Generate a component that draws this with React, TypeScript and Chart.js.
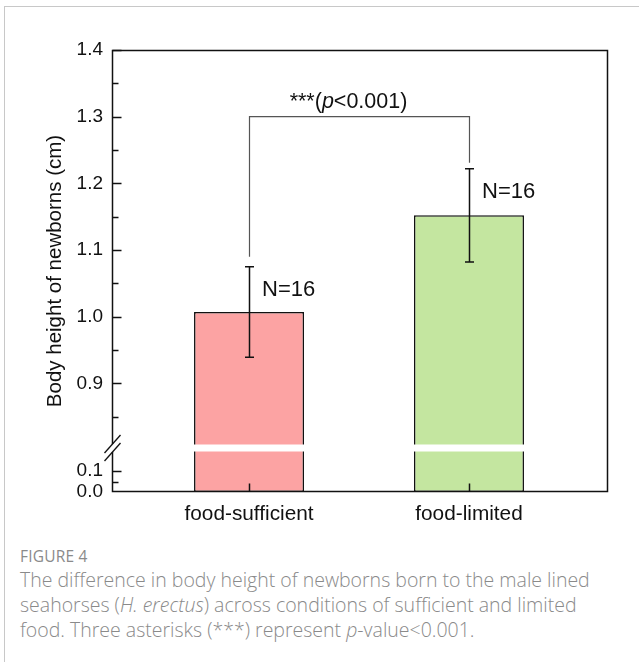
import React, { useEffect, useRef } from "react";
import { Chart, registerables } from "chart.js";

Chart.register(...registerables);

// ---------- data ----------
const categories = ["food-sufficient", "food-limited"];
const means = [1.007, 1.152];
const errors = [0.068, 0.07];
const sampleLabels = ["N=16", "N=16"];
const barColors = ["#fca3a3", "#c4e6a0"];
const majorTicks = [0.0, 0.1, 0.9, 1.0, 1.1, 1.2, 1.3, 1.4];
const minorTicks = [0.05, 0.85, 0.95, 1.05, 1.15, 1.25, 1.35];
const bracketTop = 1.3;
const bracketLegs = [1.09, 1.231];
const yTitle = "Body height of newborns (cm)";

// ---------- broken axis mapping ----------
const lowerMax = 0.2; // last value shown in the lower segment
const upperMin = 0.8; // first value shown in the upper segment
const lowerRatio = 0.315; // lower segment compression
const breakAxis = lowerMax * lowerRatio;
const toAxis = (v: number) =>
  v <= lowerMax ? v * lowerRatio : breakAxis + (v - upperMin);

const FONT = "'Liberation Sans', Arial, sans-serif";

const overlay = {
  id: "overlay",
  afterDatasetsDraw(chart: any) {
    const { ctx, chartArea: a, scales } = chart;
    const x = scales.x;
    const y = scales.y;
    const Y = (v: number) => y.getPixelForValue(toAxis(v));
    const X = (i: number) => x.getPixelForValue(i);
    const meta = chart.getDatasetMeta(0);
    const yb = y.getPixelForValue(breakAxis) - 2;
    ctx.save();

    // white break band across bars
    ctx.fillStyle = "#ffffff";
    meta.data.forEach((bar: any) => {
      const w = bar.width;
      ctx.fillRect(bar.x - w / 2 - 2, yb - 3.5, w + 4, 7);
    });

    // error bars
    ctx.strokeStyle = "#111";
    ctx.lineWidth = 1.5;
    means.forEach((m, i) => {
      const cx = Math.round(X(i)) + 0.5;
      const top = Y(m + errors[i]);
      const bot = Y(m - errors[i]);
      ctx.beginPath();
      ctx.moveTo(cx, top);
      ctx.lineTo(cx, bot);
      ctx.moveTo(cx - 4.5, top);
      ctx.lineTo(cx + 4.5, top);
      ctx.moveTo(cx - 4.5, bot);
      ctx.lineTo(cx + 4.5, bot);
      ctx.stroke();
    });

    // significance bracket
    ctx.strokeStyle = "#555";
    ctx.lineWidth = 1.2;
    const bt = Y(bracketTop);
    const x0 = Math.round(X(0)) + 0.5;
    const x1 = Math.round(X(1)) + 0.5;
    ctx.beginPath();
    ctx.moveTo(x0, Y(bracketLegs[0]));
    ctx.lineTo(x0, bt);
    ctx.lineTo(x1, bt);
    ctx.lineTo(x1, Y(bracketLegs[1]));
    ctx.stroke();

    // significance label with italic p
    ctx.fillStyle = "#111";
    ctx.textBaseline = "alphabetic";
    ctx.textAlign = "left";
    const normal = `21.5px ${FONT}`;
    const italic = `italic 21.5px ${FONT}`;
    const parts = [
      { t: "***(", f: normal },
      { t: "p", f: italic },
      { t: "<0.001)", f: normal },
    ];
    let total = 0;
    parts.forEach((p) => {
      ctx.font = p.f;
      total += ctx.measureText(p.t).width;
    });
    let tx = (x0 + x1) / 2 - 11 - total / 2;
    parts.forEach((p) => {
      ctx.font = p.f;
      ctx.fillText(p.t, tx, bt - 9);
      tx += ctx.measureText(p.t).width;
    });

    // N labels
    ctx.font = `22px ${FONT}`;
    sampleLabels.forEach((s, i) => {
      ctx.fillText(s, X(i) + 13, Y(means[i] + errors[i]) + 29);
    });

    // frame
    ctx.strokeStyle = "#111";
    ctx.lineWidth = 1.5;
    const L = Math.round(a.left) + 0.5;
    const R = Math.round(a.right) - 0.5;
    const T = Math.round(a.top) + 0.5;
    const B = Math.round(a.bottom) - 0.5;
    ctx.beginPath();
    ctx.moveTo(L, yb - 4);
    ctx.lineTo(L, T);
    ctx.lineTo(R, T);
    ctx.lineTo(R, B);
    ctx.lineTo(L, B);
    ctx.lineTo(L, yb + 4);
    ctx.stroke();

    // break slashes
    ctx.lineWidth = 1.3;
    [yb - 4, yb + 4].forEach((yc) => {
      ctx.beginPath();
      ctx.moveTo(L - 8, yc + 9);
      ctx.lineTo(L + 8, yc - 9);
      ctx.stroke();
    });

    // inward ticks
    ctx.lineWidth = 1.5;
    ctx.beginPath();
    majorTicks.forEach((v) => {
      const py = Math.round(Y(v)) + 0.5;
      if (v === 0) return;
      ctx.moveTo(L, py);
      ctx.lineTo(L + 9, py);
    });
    minorTicks.forEach((v) => {
      const py = Math.round(Y(v)) + 0.5;
      ctx.moveTo(L, py);
      ctx.lineTo(L + 6, py);
    });
    categories.forEach((_, i) => {
      const px = Math.round(X(i)) + 0.5;
      ctx.moveTo(px, B);
      ctx.lineTo(px, B - 8);
    });
    ctx.stroke();

    ctx.restore();
  },
};

function BarChart() {
  const ref = useRef<HTMLCanvasElement | null>(null);
  useEffect(() => {
    if (!ref.current) return;
    const chart = new Chart(ref.current, {
      type: "bar",
      data: {
        datasets: [
          {
            data: means.map((m, i) => ({ x: i, y: toAxis(m) })),
            backgroundColor: barColors,
            borderColor: "#111",
            borderWidth: 1.5,
            borderSkipped: false,
            categoryPercentage: 1,
            barPercentage: 0.5,
          },
        ],
      },
      options: {
        animation: false,
        responsive: false,
        maintainAspectRatio: false,
        layout: { padding: { left: 0, right: 31, top: 50, bottom: 0 } },
        plugins: {
          legend: { display: false },
          tooltip: { enabled: false },
        },
        scales: {
          x: {
            type: "linear",
            offset: false,
            min: -0.623,
            max: 1.632,
            grid: { display: false, drawTicks: false, offset: false },
            border: { display: false },
            afterBuildTicks: (s: any) => {
              s.ticks = categories.map((_, i) => ({ value: i }));
            },
            afterFit: (s: any) => {
              s.height = 48;
            },
            ticks: {
              padding: 10,
              color: "#111",
              font: { family: FONT, size: 20.8 },
              maxRotation: 0,
              autoSkip: false,
              callback: (_v: any, i: number) => categories[i],
            },
          },
          y: {
            type: "linear",
            min: 0,
            max: toAxis(1.4),
            grid: { display: false, drawTicks: false },
            border: { display: false },
            afterBuildTicks: (s: any) => {
              s.ticks = majorTicks.map((v) => ({ value: toAxis(v) }));
            },
            afterFit: (s: any) => {
              s.width = 112;
            },
            ticks: {
              padding: 9,
              color: "#111",
              font: { family: FONT, size: 19 },
              autoSkip: false,
              callback: (_v: any, i: number) => majorTicks[i].toFixed(1),
            },
            title: {
              display: true,
              text: yTitle,
              color: "#111",
              font: { family: FONT, size: 20.5 },
              padding: { top: 43, bottom: 0 },
            },
          },
        },
      },
      plugins: [overlay],
    } as any);
    return () => chart.destroy();
  }, []);
  return (
    <canvas
      ref={ref}
      width={639}
      height={540}
      style={{ position: "absolute", left: 0, top: 0, width: 639, height: 540 }}
    />
  );
}

export default function App() {
  return (
    <div
      style={{
        position: "absolute",
        left: 0,
        top: 0,
        width: 639,
        height: 662,
        background: "#fff",
        overflow: "hidden",
      }}
    >
      <div
        style={{
          position: "absolute",
          left: 4,
          top: 6,
          width: 640,
          height: 660,
          borderTop: "1px solid #c8c8c8",
          borderLeft: "1px solid #c8c8c8",
        }}
      />
      <BarChart />
      <div
        style={{
          position: "absolute",
          left: 20,
          top: 545,
          width: 619,
          whiteSpace: "nowrap",
          fontFamily: "'Open Sans', sans-serif",
          color: "#8a8a8a",
        }}
      >
        <div style={{ fontSize: 15.5, lineHeight: "22px", letterSpacing: 0.2 }}>FIGURE 4</div>
        <div style={{ fontSize: 19.5, lineHeight: "25px", fontWeight: 300 }}>
          The difference in body height of newborns born to the male lined
          <br />
          seahorses (<i>H. erectus</i>) across conditions of sufficient and limited
          <br />
          food. Three asterisks (***) represent <i>p</i>-value&lt;0.001.
        </div>
      </div>
    </div>
  );
}
